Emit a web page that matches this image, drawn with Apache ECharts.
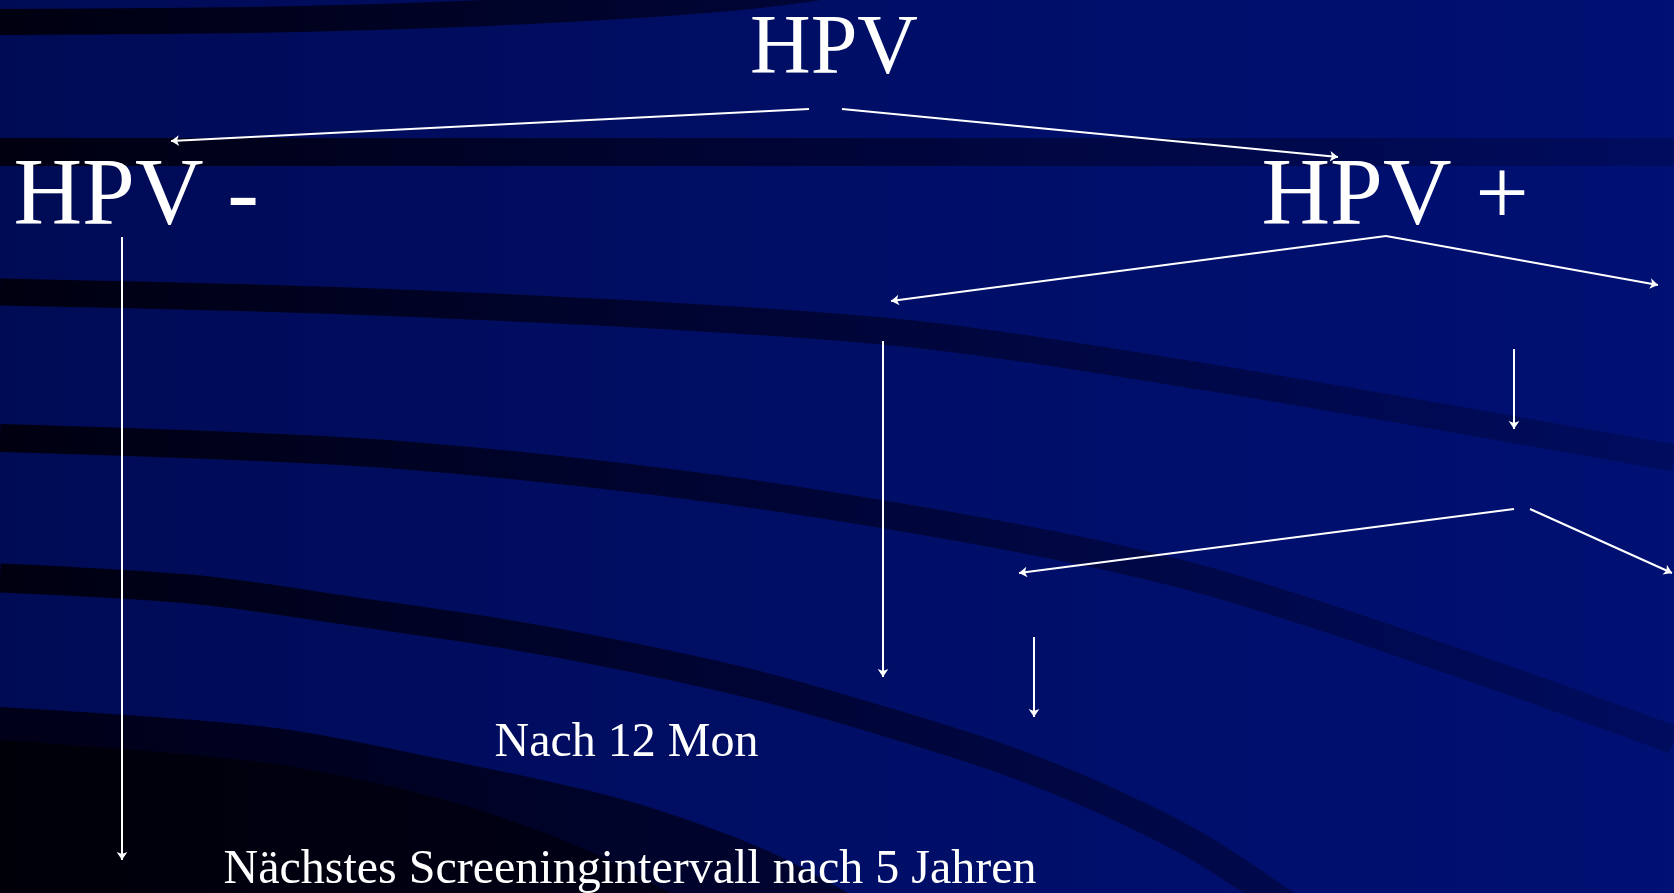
<!DOCTYPE html>
<html>
<head>
<meta charset="utf-8">
<script src="https://cdn.jsdelivr.net/npm/echarts@6/dist/echarts.min.js"></script>
<style>
  html, body { margin: 0; padding: 0; background: #000c58; overflow: hidden; }
  #chart { width: 1674px; height: 893px; }
</style>
</head>
<body>
<div id="chart"></div>
<script>
// slide space: x 0..1674 left to right, y 0..893 top to bottom
const headline = [{ name: "HPV", value: [834, 51] }];
const branches = [
  { name: "HPV -", value: [13, 199] },
  { name: "HPV +", value: [1261, 199] },
];
const notes = [
  { name: "Nach 12 Mon", value: [494, 743] },
  { name: "Nächstes Screeningintervall nach 5 Jahren", value: [223, 870] },
];

// flow arrows, [from, to]
const arrows = [
  [[809, 109], [171, 141]],
  [[842, 109], [1338, 157]],
  [[122, 237], [122, 860]],
  [[1386, 236], [891, 301]],
  [[1386, 236], [1658, 285]],
  [[883, 341], [883, 677]],
  [[1514, 349], [1514, 429]],
  [[1514, 509], [1019, 573]],
  [[1530, 509], [1672, 573]],
  [[1034, 637], [1034, 717]],
];

// background swooshes (centre lines)
const swooshTop = [[0, 22], [300, 19], [550, 10], [750, -4], [900, -25]];
const swooshFlat = [[0, 152], [1674, 152]];
const swooshA = [[0, 292], [400, 303], [883, 331], [1200, 376], [1674, 458]];
const swooshB = [[0, 438], [400, 455], [800, 501], [1200, 579], [1674, 740]];
const swooshC = [[0, 578], [200, 590], [357, 612], [500, 633], [625, 656], [760, 686], [893, 724], [1000, 758], [1100, 798], [1200, 848], [1300, 915]];
const shadeOuter = [[0, 707], [268, 727], [446, 760], [625, 800], [759, 847], [848, 893], [880, 915]];
const shadeInner = [[0, 740], [268, 763], [446, 800], [580, 847], [670, 893], [700, 915]];

const chart = echarts.init(document.getElementById("chart"), null, { renderer: "canvas" });

const bandColor = new echarts.graphic.LinearGradient(0, 0, 1674, 0, [
  { offset: 0, color: "rgb(0,0,16)" },
  { offset: 0.5, color: "rgb(0,5,56)" },
  { offset: 1, color: "rgb(0,12,94)" },
], true);

function swoosh(points, width) {
  return {
    type: "line",
    data: points,
    smooth: 0.3,
    showSymbol: false,
    silent: true,
    lineStyle: { width: width, color: bandColor, cap: "butt" },
    z: 1,
  };
}

function shade(points, stops) {
  return {
    type: "line",
    data: points,
    smooth: 0.3,
    showSymbol: false,
    silent: true,
    lineStyle: { width: 0 },
    areaStyle: {
      origin: "end",
      opacity: 1,
      color: new echarts.graphic.LinearGradient(0, 0, 1674, 0, stops, true),
    },
    z: 1,
  };
}

function textSeries(items, size, pos) {
  return {
    type: "scatter",
    data: items,
    symbolSize: 1,
    itemStyle: { color: "transparent", opacity: 1 },
    silent: true,
    z: 5,
    label: {
      show: true,
      formatter: "{b}",
      position: pos,
      distance: 0,
      opacity: 1,
      color: "#ffffff",
      fontFamily: "'Liberation Serif', 'Times New Roman', serif",
      fontSize: size,
      lineHeight: size,
    },
  };
}

chart.setOption({
  animation: false,
  backgroundColor: new echarts.graphic.LinearGradient(0, 0, 1, 0, [
    { offset: 0, color: "#000b55" },
    { offset: 0.5, color: "#000e66" },
    { offset: 1, color: "#001073" },
  ]),
  grid: { left: 0, right: 0, top: 0, bottom: 0 },
  xAxis: { type: "value", min: 0, max: 1674, show: false },
  yAxis: { type: "value", min: 0, max: 893, inverse: true, show: false },
  series: [
    swoosh(swooshTop, 26),
    swoosh(swooshFlat, 28),
    swoosh(swooshA, 27),
    swoosh(swooshB, 28),
    swoosh(swooshC, 29),
    shade(shadeOuter, [
      { offset: 0, color: "rgb(0,0,24)" },
      { offset: 0.5, color: "rgb(0,4,48)" },
      { offset: 1, color: "rgb(0,8,80)" },
    ]),
    shade(shadeInner, [
      { offset: 0, color: "rgb(0,0,9)" },
      { offset: 0.45, color: "rgb(0,0,24)" },
      { offset: 1, color: "rgb(0,4,50)" },
    ]),
    {
      type: "lines",
      coordinateSystem: "cartesian2d",
      silent: true,
      z: 4,
      symbol: ["none", "arrow"],
      symbolSize: 8,
      lineStyle: { color: "#ffffff", width: 2, opacity: 1, curveness: 0 },
      data: arrows.map((seg) => ({ coords: seg })),
    },
    textSeries(headline, 84, "inside"),
    textSeries(branches, 95, "right"),
    textSeries(notes, 48, "right"),
  ],
});
</script>
</body>
</html>
